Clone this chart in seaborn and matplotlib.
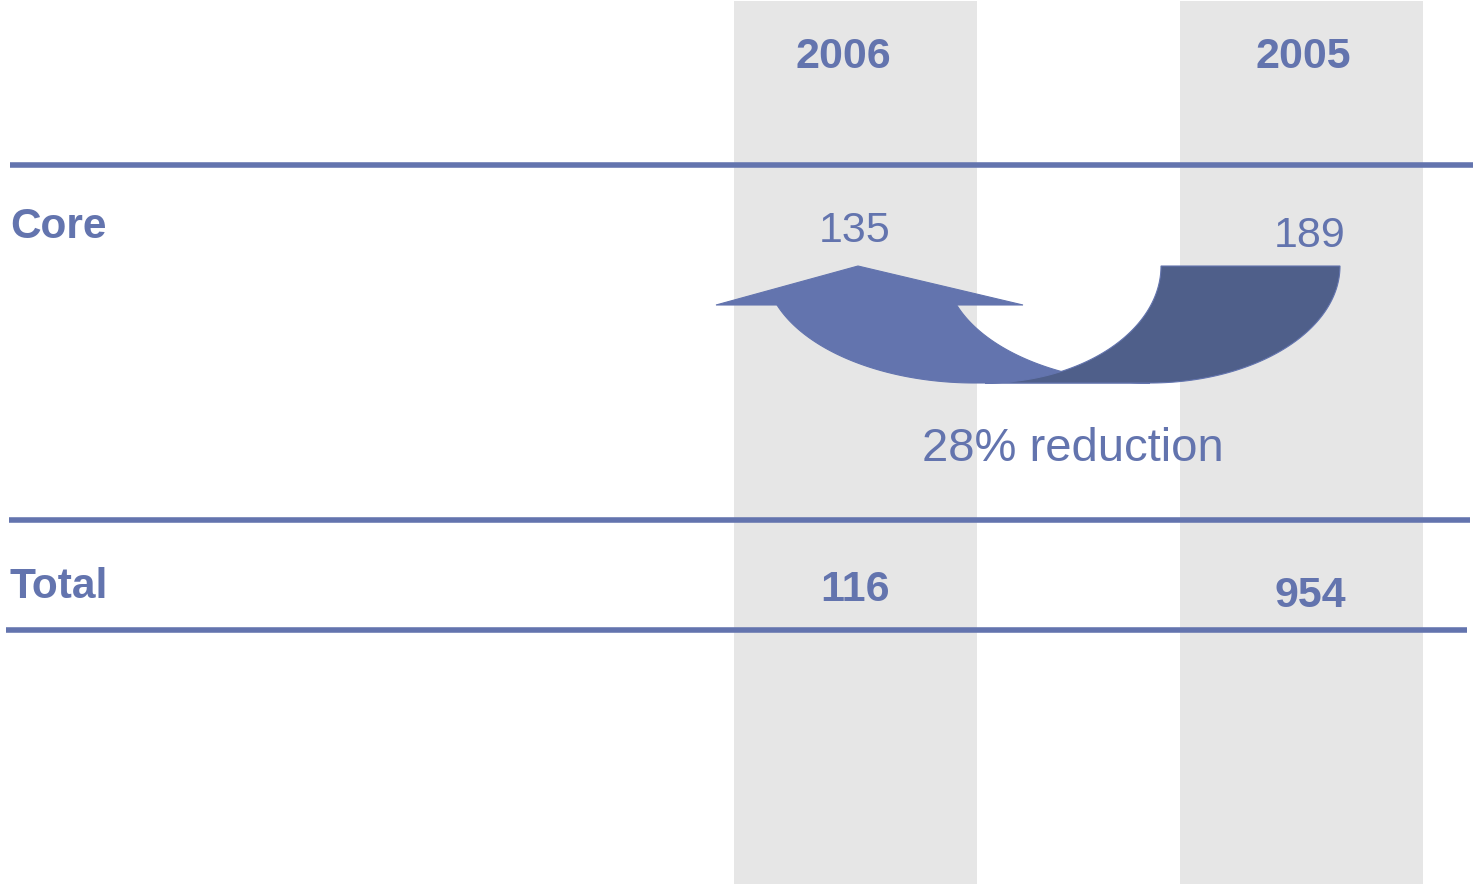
import numpy as np
import matplotlib
matplotlib.use("Agg")
import matplotlib.pyplot as plt
import seaborn as sns
from matplotlib.patches import Polygon, Rectangle

# ---- table content ----
years = ["2006", "2005"]
row_labels = ["Core", "Total"]
core_values = [135, 189]
total_values = [116, 954]
change_label = "28% reduction"

# ---- styling ----
sns.set_theme(style="white")
plt.rcParams["font.family"] = ["Liberation Sans", "DejaVu Sans"]
BLUE = "#6374AE"
DARK = "#4F5F8A"
GREY = "#E6E6E6"

W, H = 1473, 886
fig = plt.figure(figsize=(W / 100, H / 100), dpi=100)
ax = fig.add_axes([0, 0, 1, 1])
ax.set_xlim(0, W)
ax.set_ylim(H, 0)
ax.axis("off")

# column layout (left edge, width) and text anchors
col_spans = [(734, 243), (1180, 243)]
year_x = [843, 1303]
core_x = [855, 1310]
core_base = [242, 247]
total_x = [855, 1310]
total_base = [601, 607]

# shaded year columns
for (x0, w) in col_spans:
    ax.add_patch(Rectangle((x0, 1), w, 883, facecolor=GREY, edgecolor="none", zorder=0))

# horizontal rules
for y, x0, x1 in [(164.5, 10, 1473), (520, 9, 1470), (630, 6, 1467)]:
    ax.plot([x0, x1], [y, y], color=BLUE, lw=4.0, solid_capstyle="butt", zorder=2)

# header years
for yr, x in zip(years, year_x):
    ax.text(x, 68, yr, ha="center", va="baseline", fontsize=31, fontweight="bold", color=BLUE)

# row labels
ax.text(10, 238, row_labels[0], ha="left", va="baseline", fontsize=30.5, fontweight="bold", color=BLUE)
ax.text(10, 598, row_labels[1], ha="left", va="baseline", fontsize=30.5, fontweight="bold", color=BLUE)

# values
for v, x, b in zip(core_values, core_x, core_base):
    ax.text(x, b, f"{v}", ha="center", va="baseline", fontsize=31, color=BLUE)
for v, x, b in zip(total_values, total_x, total_base):
    ax.text(x, b, f"{v}", ha="center", va="baseline", fontsize=31, fontweight="bold", color=BLUE)

ax.text(1073, 461, change_label, ha="center", va="baseline", fontsize=34, color=BLUE)


# ---- curved U-turn arrow from 2005 back to 2006 ----
def arc(cx, cy, rx, ry, t0, t1, n=80):
    t = np.linspace(t0, t1, n)
    return np.column_stack([cx + rx * np.cos(t), cy + ry * np.sin(t)])


cy, ry = 266, 117
base_y = 305
t_start = np.arcsin((base_y - cy) / ry)

# light shaft (left band, rising into the arrowhead)
outer = arc(975, cy, 210, ry, np.pi - t_start, np.pi / 2)
inner = arc(1150, cy, 205, ry, np.pi / 2, np.pi - t_start)
shaft = np.vstack([outer, inner])
ax.add_patch(Polygon(shaft, closed=True, facecolor=BLUE, edgecolor=BLUE, lw=0.8, zorder=3))
head = [(716, base_y), (858, cy), (1023, base_y)]
ax.add_patch(Polygon(head, closed=True, facecolor=BLUE, edgecolor=BLUE, lw=0.8, zorder=3))

# dark tail (right band, seen from the front)
tail_out = arc(1150, cy, 190, ry, 0, np.pi / 2)
tail_in = arc(985, cy, 176, ry, np.pi / 2, 0)
tail = np.vstack([tail_out, [(985, cy + ry)], tail_in])
ax.add_patch(Polygon(tail, closed=True, facecolor=DARK, edgecolor=BLUE, lw=0.8, zorder=4))

fig.savefig("out.png", dpi=100, facecolor="white")
